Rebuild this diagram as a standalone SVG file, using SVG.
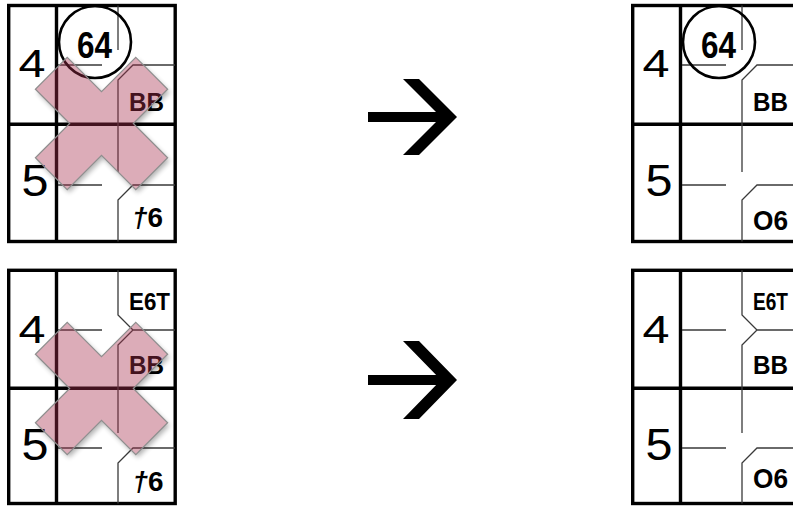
<svg xmlns="http://www.w3.org/2000/svg" width="793" height="506" viewBox="0 0 793 506">
<defs>
<style>
.thick{fill:none;stroke:#000;stroke-width:3.4}
.thin{fill:none;stroke:#3a3a3a;stroke-width:1.3}
.num{font-family:"Liberation Sans",Arial,sans-serif;fill:#000}
.lbl{font-family:"Liberation Sans",Arial,sans-serif;font-weight:bold;fill:#000}
.xfill{fill:rgb(167,47,77);fill-opacity:0.4;stroke:#8e8e8e;stroke-width:1.2}
.xshadow{fill:#000;opacity:0.3}
.arrow{fill:#000}
</style>
<filter id="blur" x="-20%" y="-20%" width="140%" height="140%"><feGaussianBlur stdDeviation="2.5"/></filter>
<polygon id="xshape" points="-22.5,-71 22.5,-71 22.5,-22.5 71,-22.5 71,22.5 22.5,22.5 22.5,71 -22.5,71 -22.5,22.5 -71,22.5 -71,-22.5 -22.5,-22.5"/>
<mask id="xout" maskUnits="userSpaceOnUse" x="-120" y="-120" width="240" height="240">
<rect x="-120" y="-120" width="240" height="240" fill="#fff"/>
<use href="#xshape" fill="#000"/>
</mask>
</defs>
<rect width="793" height="506" fill="#fff"/>

<g id="grid-top-left">
<rect class="thick" x="8.7" y="5.5" width="166.5" height="236"/>
<line class="thick" x1="56.5" y1="5.5" x2="56.5" y2="241.5"/>
<line class="thick" x1="8.7" y1="124.3" x2="175.2" y2="124.3"/>
<path class="thin" d="M118,5.5 V50 M58,65 H102 M175,65 H133 L118,80 V172 M58,185 H102 M175,185 H133 L118,200 V241.5"/>
<circle cx="95" cy="42" r="36" fill="none" stroke="#000" stroke-width="2.6"/>
<text class="num" x="32" y="77" font-size="38" text-anchor="middle" textLength="27" lengthAdjust="spacingAndGlyphs">4</text>
<text class="num" x="35" y="196" font-size="45" text-anchor="middle" textLength="27" lengthAdjust="spacingAndGlyphs">5</text>
<text class="lbl" x="94.5" y="58" font-size="37" text-anchor="middle" textLength="35" lengthAdjust="spacingAndGlyphs">64</text>
<text class="lbl" x="146.5" y="111" font-size="25" text-anchor="middle" textLength="35" lengthAdjust="spacingAndGlyphs">BB</text>
<text class="lbl" x="147.5" y="227" font-size="28" text-anchor="middle" textLength="31" lengthAdjust="spacingAndGlyphs"><tspan font-style="italic">†</tspan>6</text>
<g transform="translate(101.5,123.5) rotate(45)">
<g mask="url(#xout)"><use href="#xshape" class="xshadow" transform="rotate(-45) translate(2,3) rotate(45)" filter="url(#blur)"/></g>
<use href="#xshape" class="xfill"/>
</g>
</g>

<g id="grid-top-right">
<rect class="thick" x="632.7" y="5.5" width="166.5" height="236"/>
<line class="thick" x1="680.5" y1="5.5" x2="680.5" y2="241.5"/>
<line class="thick" x1="632.7" y1="124.3" x2="799.2" y2="124.3"/>
<path class="thin" d="M742,5.5 V50 M682,65 H726 M799,65 H757 L742,80 V172 M682,185 H726 M799,185 H757 L742,200 V241.5"/>
<circle cx="719" cy="42" r="36" fill="none" stroke="#000" stroke-width="2.6"/>
<text class="num" x="656" y="77" font-size="38" text-anchor="middle" textLength="27" lengthAdjust="spacingAndGlyphs">4</text>
<text class="num" x="659" y="196" font-size="45" text-anchor="middle" textLength="27" lengthAdjust="spacingAndGlyphs">5</text>
<text class="lbl" x="718.5" y="58" font-size="37" text-anchor="middle" textLength="35" lengthAdjust="spacingAndGlyphs">64</text>
<text class="lbl" x="770.5" y="111" font-size="25" text-anchor="middle" textLength="35" lengthAdjust="spacingAndGlyphs">BB</text>
<text class="lbl" x="770.5" y="230" font-size="28" text-anchor="middle" textLength="35" lengthAdjust="spacingAndGlyphs">O6</text>
</g>

<g id="grid-bottom-left">
<rect class="thick" x="8.7" y="270.3" width="166.5" height="233.2"/>
<line class="thick" x1="56.5" y1="270.3" x2="56.5" y2="503.5"/>
<line class="thick" x1="8.7" y1="388.3" x2="175.2" y2="388.3"/>
<path class="thin" d="M118,270.3 V315 L133,330 L118,345 V433 M133,330 H175 M58,330 H102 M58,448 H102 M175,448 H133 L118,463 V503.5"/>
<text class="num" x="32" y="342.5" font-size="38" text-anchor="middle" textLength="27" lengthAdjust="spacingAndGlyphs">4</text>
<text class="num" x="35" y="460" font-size="45" text-anchor="middle" textLength="27" lengthAdjust="spacingAndGlyphs">5</text>
<text class="lbl" x="129" y="310" font-size="24" textLength="41" lengthAdjust="spacingAndGlyphs">E6T</text>
<text class="lbl" x="146.5" y="374" font-size="25" text-anchor="middle" textLength="35" lengthAdjust="spacingAndGlyphs">BB</text>
<text class="lbl" x="148" y="491" font-size="28" text-anchor="middle" textLength="31" lengthAdjust="spacingAndGlyphs"><tspan font-style="italic">†</tspan>6</text>
<g transform="translate(101.5,388.5) rotate(45)">
<g mask="url(#xout)"><use href="#xshape" class="xshadow" transform="rotate(-45) translate(2,3) rotate(45)" filter="url(#blur)"/></g>
<use href="#xshape" class="xfill"/>
</g>
</g>

<g id="grid-bottom-right">
<rect class="thick" x="632.7" y="270.3" width="166.5" height="233.2"/>
<line class="thick" x1="680.5" y1="270.3" x2="680.5" y2="503.5"/>
<line class="thick" x1="632.7" y1="388.3" x2="799.2" y2="388.3"/>
<path class="thin" d="M742,270.3 V315 L757,330 L742,345 V433 M757,330 H799 M682,330 H726 M682,448 H726 M799,448 H757 L742,463 V503.5"/>
<text class="num" x="656" y="342.5" font-size="38" text-anchor="middle" textLength="27" lengthAdjust="spacingAndGlyphs">4</text>
<text class="num" x="659" y="460" font-size="45" text-anchor="middle" textLength="27" lengthAdjust="spacingAndGlyphs">5</text>
<text class="lbl" x="753" y="310" font-size="24" textLength="35" lengthAdjust="spacingAndGlyphs">E6T</text>
<text class="lbl" x="770.5" y="374" font-size="25" text-anchor="middle" textLength="35" lengthAdjust="spacingAndGlyphs">BB</text>
<text class="lbl" x="770.5" y="488" font-size="28" text-anchor="middle" textLength="35" lengthAdjust="spacingAndGlyphs">O6</text>
</g>

<g id="connectors">
<path class="arrow" d="M368,112 H446 V122 H368 Z M403,79 H419 L457,117 L419,155 H403 L441,117 Z"/>
<path class="arrow" d="M368,375 H446 V385 H368 Z M403,341 H419 L457,380 L419,419 H403 L441,380 Z"/>
</g>
</svg>
